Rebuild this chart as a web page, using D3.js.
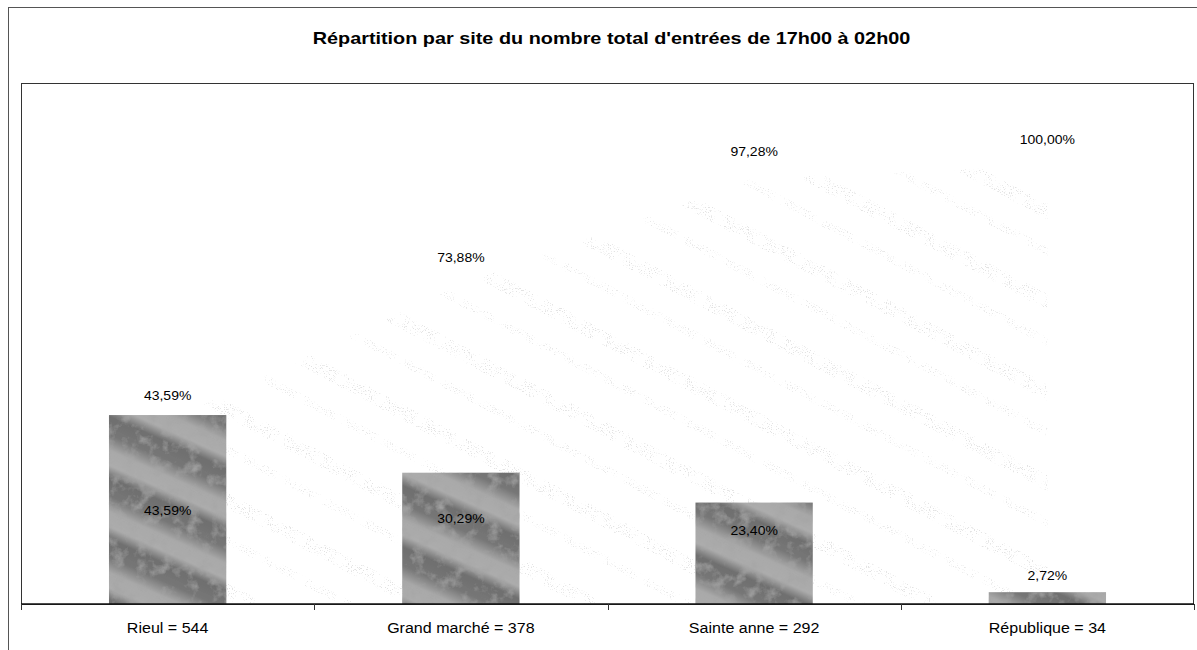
<!DOCTYPE html>
<html><head><meta charset="utf-8">
<script src="https://cdn.jsdelivr.net/npm/d3@7"></script>
<style>
html,body{margin:0;padding:0;background:#fff;}
svg{display:block;font-family:"Liberation Sans",Arial,sans-serif;}
</style></head>
<body>
<svg id="chart" width="1197" height="650"></svg>
<script>
const title = "Répartition par site du nombre total d'entrées de 17h00 à 02h00";
const categories = ["Rieul = 544", "Grand marché = 378", "Sainte anne = 292", "République = 34"];
const counts = [544, 378, 292, 34];
const sharePct = [43.59, 30.29, 23.40, 2.72];
const cumPct = [43.59, 73.88, 97.28, 100.00];
const yMax = 1500;
const y2Max = 115;

const W = 1197, H = 650;
const plot = {left: 21, top: 83, right: 1194, bottom: 604};
const svg = d3.select("#chart");
const fr = d3.formatLocale({decimal: ",", thousands: " ", grouping: [3], currency: ["", " €"]});
const pct = v => fr.format(".2f")(v) + "%";

const defs = svg.append("defs");
// camo-like texture for bars
const grad = defs.append("linearGradient").attr("id", "bandGrad")
  .attr("x1", 0).attr("y1", 0).attr("x2", 0).attr("y2", 1);
[[0, "#6e6e6e"], [0.3, "#777"], [0.55, "#a9a9a9"], [0.8, "#acacac"], [1, "#6e6e6e"]]
  .forEach(([o, c]) => grad.append("stop").attr("offset", o).attr("stop-color", c));
const pat = defs.append("pattern").attr("id", "camo").attr("patternUnits", "userSpaceOnUse")
  .attr("width", 400).attr("height", 56).attr("patternTransform", "rotate(24)");
pat.append("rect").attr("width", 400).attr("height", 56).attr("fill", "url(#bandGrad)");
const grain = defs.append("filter").attr("id", "grain").attr("x", 0).attr("y", 0).attr("width", 1).attr("height", 1);
grain.append("feTurbulence").attr("type", "fractalNoise").attr("baseFrequency", 0.08).attr("numOctaves", 4).attr("seed", 7).attr("result", "noise");
grain.append("feColorMatrix").attr("in", "noise").attr("type", "matrix")
  .attr("values", "0 0 0 0 0.38  0 0 0 0 0.38  0 0 0 0 0.38  0 0 0 -2.0 1.05").attr("result", "shade");
grain.append("feComposite").attr("in", "shade").attr("in2", "SourceGraphic").attr("operator", "in").attr("result", "sh");
grain.append("feMerge").call(m => { m.append("feMergeNode").attr("in", "SourceGraphic"); m.append("feMergeNode").attr("in", "sh"); });

// faint speckled texture for cumulative area
const fpat = defs.append("pattern").attr("id", "faint").attr("patternUnits", "userSpaceOnUse")
  .attr("width", 400).attr("height", 80).attr("patternTransform", "rotate(28)");
fpat.append("rect").attr("y", 8).attr("width", 400).attr("height", 14).attr("fill", "#bdbdbd");
fpat.append("rect").attr("y", 46).attr("width", 400).attr("height", 8).attr("fill", "#cacaca");
const speck = defs.append("filter").attr("id", "speck");
speck.append("feTurbulence").attr("type", "fractalNoise").attr("baseFrequency", 0.95).attr("numOctaves", 1).attr("seed", 2).attr("result", "n");
speck.append("feColorMatrix").attr("in", "n").attr("type", "matrix")
  .attr("values", "0 0 0 0 0  0 0 0 0 0  0 0 0 0 0  0 0 0 -9 3.6").attr("result", "m");
speck.append("feComposite").attr("in", "SourceGraphic").attr("in2", "m").attr("operator", "in");

// outer frame
svg.append("rect").attr("x", 8.5).attr("y", 7.5).attr("width", W).attr("height", H)
  .attr("fill", "none").attr("stroke", "#555").attr("stroke-width", 1);

// title
svg.append("text").attr("x", 0).attr("y", 0)
  .attr("transform", `translate(${(plot.left + plot.right) / 2 + 4},44) scale(1.24,1)`)
  .attr("text-anchor", "middle").attr("font-size", 16).attr("font-weight", "bold")
  .attr("fill", "#000").text(title);

const x = d3.scaleBand().domain(categories).range([plot.left, plot.right])
  .paddingInner(0.6).paddingOuter(0.3);
const y = d3.scaleLinear().domain([0, yMax]).range([plot.bottom, plot.top]);
const y2 = d3.scaleLinear().domain([0, y2Max]).range([plot.bottom, plot.top]);
const cx = c => x(c) + x.bandwidth() / 2;

// faint cumulative area
const area = d3.area().x((d, i) => cx(categories[i])).y0(plot.bottom).y1(d => y2(d) + 15);
svg.append("path").datum(cumPct).attr("d", area).attr("fill", "url(#faint)")
  .attr("filter", "url(#speck)").attr("opacity", 0.42);

// bars
svg.append("g").selectAll("rect").data(counts).join("rect")
  .attr("x", (d, i) => x(categories[i]))
  .attr("y", d => y(d))
  .attr("width", x.bandwidth())
  .attr("height", d => y(0) - y(d))
  .attr("fill", "url(#camo)")
  .attr("filter", "url(#grain)");

// plot frame
svg.append("rect").attr("x", plot.left + 0.5).attr("y", plot.top + 0.5)
  .attr("width", plot.right - plot.left - 1).attr("height", plot.bottom - plot.top)
  .attr("fill", "none").attr("stroke", "#333").attr("stroke-width", 1);

// x axis
const xAxis = svg.append("g").attr("transform", `translate(0,${plot.bottom})`);
xAxis.append("line").attr("x1", plot.left).attr("x2", plot.right).attr("stroke", "#111").attr("stroke-width", 1.5);
const step = x.step();
const bounds = categories.map(c => x(c) - (step - x.bandwidth()) / 2).concat([plot.right]);
xAxis.selectAll("line.tick").data(bounds).join("line").attr("class", "tick")
  .attr("x1", d => Math.round(d) + 0.5).attr("x2", d => Math.round(d) + 0.5)
  .attr("y1", 0).attr("y2", 6).attr("stroke", "#333");
xAxis.selectAll("text").data(categories).join("text")
  .attr("transform", d => `translate(${cx(d)},29) scale(1.07,1)`)
  .attr("text-anchor", "middle").attr("font-size", 15).attr("fill", "#000").text(d => d);

// share labels (inside bars / above small bar)
const hMax = y(0) - y(d3.max(counts));
svg.append("g").selectAll("text").data(sharePct).join("text")
  .attr("transform", (d, i) => {
    const top = y(counts[i]), h = y(0) - top;
    const yy = h > 40 ? top + h * h / (2 * hMax) + 5 : top - 12;
    return `translate(${cx(categories[i])},${yy}) scale(1.12,1)`;
  })
  .attr("text-anchor", "middle").attr("font-size", 12.5).attr("fill", "#000").text(d => pct(d));

// cumulative labels
svg.append("g").selectAll("text").data(cumPct).join("text")
  .attr("transform", (d, i) => `translate(${cx(categories[i])},${y2(d) - 7}) scale(1.12,1)`)
  .attr("text-anchor", "middle").attr("font-size", 12.5).attr("fill", "#000").text(d => pct(d));
</script>
</body></html>
